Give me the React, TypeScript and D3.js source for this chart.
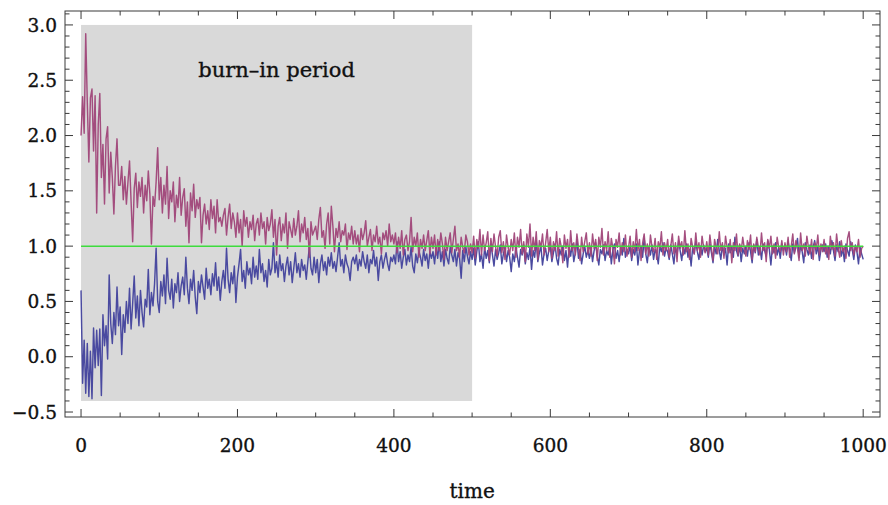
import React from 'react';
import * as d3 from 'd3';

// sampling step of the chains (time units between stored values)
const TIME_STEP = 2;

// upper chain (magenta), t = 0, 2, 4, ... 1000
const chainHigh: number[] = [
  2.00, 2.35, 2.02, 2.92, 2.30, 1.76, 2.34, 2.42, 1.86, 2.36, 1.30, 2.10, 2.38, 1.62, 1.92, 1.38, 1.97, 2.08, 1.48, 1.85, 1.62, 1.29, 1.72, 1.97, 1.55,
  1.55, 1.72, 1.42, 1.63, 1.38, 1.58, 1.77, 1.40, 1.04, 1.52, 1.66, 1.35, 1.58, 1.45, 1.62, 1.30, 1.55, 1.41, 1.68, 1.47, 1.02, 1.45, 1.36, 1.58, 1.89,
  1.42, 1.62, 1.30, 1.55, 1.38, 1.72, 1.25, 1.50, 1.40, 1.58, 1.22, 1.46, 1.35, 1.62, 1.28, 1.44, 1.52, 1.18, 1.40, 1.03, 1.48, 1.32, 1.56, 1.26, 1.42,
  1.34, 1.44, 1.03, 1.28, 1.38, 1.20, 1.32, 1.15, 1.42, 1.25, 1.36, 1.12, 1.42, 1.22, 1.26, 1.18, 1.28, 1.34, 1.10, 1.26, 1.38, 1.16, 1.30, 1.22, 1.08,
  1.30, 1.12, 1.24, 1.00, 1.32, 1.18, 1.26, 1.08, 1.22, 1.15, 1.28, 1.05, 1.20, 1.25, 1.10, 1.30, 1.16, 1.22, 1.02, 1.26, 1.14, 1.20, 1.33, 1.08, 1.24,
  0.92, 1.18, 1.26, 1.05, 1.20, 1.12, 1.30, 0.98, 1.22, 1.15, 1.08, 1.25, 1.10, 1.18, 1.32, 1.04, 1.20, 1.12, 1.26, 1.06, 1.16, 0.90, 1.22, 1.10, 1.14,
  1.18, 1.06, 1.24, 1.35, 1.08, 1.14, 0.98, 1.20, 1.30, 1.02, 1.36, 1.18, 0.95, 1.16, 1.08, 1.22, 1.04, 1.14, 1.10, 1.20, 0.97, 1.12, 1.06, 1.18, 1.02,
  1.14, 1.02, 1.10, 0.95, 1.16, 1.06, 1.12, 1.23, 1.00, 1.08, 1.15, 0.96, 1.10, 1.04, 1.18, 1.02, 1.08, 0.93, 1.12, 1.06, 1.14, 1.00, 1.20, 1.04, 1.10,
  1.02, 1.12, 0.94, 1.08, 0.98, 1.14, 0.92, 1.06, 1.10, 0.96, 1.04, 1.26, 0.95, 1.08, 1.00, 1.12, 0.90, 1.06, 0.98, 1.10, 0.96, 1.05, 1.14, 0.93, 1.08,
  0.98, 1.10, 0.92, 1.06, 0.96, 1.12, 1.02, 0.88, 1.08, 0.96, 1.04, 1.12, 0.94, 1.06, 1.18, 0.96, 1.02, 0.90, 1.08, 0.99, 0.94, 1.10, 1.04, 0.92, 1.02,
  0.94, 1.09, 0.89, 1.06, 0.98, 1.15, 0.92, 1.10, 0.96, 1.03, 1.13, 0.87, 1.07, 0.95, 1.11, 0.99, 0.91, 1.08, 1.14, 0.94, 1.04, 0.88, 1.10, 0.99, 0.92,
  1.06, 0.96, 1.12, 0.90, 1.08, 0.99, 1.15, 0.93, 1.04, 0.86, 1.11, 0.99, 1.20, 0.91, 1.08, 0.96, 1.13, 0.88, 1.05, 0.99, 1.11, 0.92, 1.03, 1.15, 0.95,
  1.08, 0.89, 1.04, 0.96, 1.13, 0.91, 1.07, 0.99, 0.85, 1.10, 0.98, 1.06, 0.90, 1.14, 0.96, 1.03, 0.92, 1.11, 0.99, 0.87, 1.08, 0.95, 1.04, 1.12, 0.93,
  1.03, 0.91, 1.11, 0.98, 1.06, 0.87, 1.08, 0.99, 1.16, 0.92, 1.04, 0.96, 1.13, 0.90, 1.07, 0.98, 0.84, 1.06, 0.99, 1.12, 0.92, 1.03, 0.95, 1.10, 0.91,
  0.99, 1.09, 0.90, 1.04, 0.95, 1.15, 0.96, 1.06, 0.87, 1.03, 1.11, 0.93, 1.02, 0.91, 1.10, 0.99, 0.95, 1.07, 0.88, 1.04, 0.98, 1.13, 0.92, 1.03, 0.96,
  1.06, 0.90, 1.00, 1.11, 0.93, 1.03, 0.86, 1.09, 0.98, 1.04, 0.92, 1.14, 0.95, 1.02, 0.88, 1.07, 0.99, 0.93, 1.12, 0.96, 1.03, 0.90, 1.09, 0.99, 0.94,
  1.04, 0.92, 1.10, 0.98, 0.87, 1.06, 0.99, 0.93, 1.13, 0.96, 1.03, 0.89, 1.09, 0.99, 0.94, 1.06, 0.85, 1.03, 0.96, 1.11, 0.92, 1.02, 0.95, 1.08, 0.98,
  0.91, 1.05, 0.97, 1.10, 0.88, 1.02, 0.95, 1.08, 0.99, 0.92, 1.12, 0.96, 1.03, 0.86, 1.06, 0.98, 1.09, 0.93, 1.02, 0.89, 1.08, 0.99, 0.95, 1.05, 0.92,
  1.03, 0.95, 1.08, 0.90, 1.00, 1.11, 0.93, 1.05, 0.98, 0.87, 1.12, 0.96, 1.02, 0.91, 1.09, 0.99, 0.93, 1.06, 0.88, 1.03, 0.97, 1.10, 0.92, 1.02, 0.95,
  1.06, 0.93, 1.00, 0.88, 1.09, 0.97, 1.03, 0.91, 1.11, 0.98, 0.90, 1.05, 0.95, 1.00, 0.89, 1.07, 1.13, 0.96, 1.03, 0.92, 1.00, 0.95, 1.06, 0.90, 0.98,
  1.00,
];

// lower chain (blue), t = 0, 2, 4, ... 1000
const chainLow: number[] = [
  0.60, -0.24, 0.15, -0.33, 0.12, -0.36, 0.05, -0.38, 0.26, -0.10, 0.24, -0.08, 0.25, -0.35, 0.38, 0.10, 0.28, -0.02, 0.74, 0.30, 0.12, 0.40, 0.20, 0.63, 0.28,
  0.45, 0.02, 0.38, 0.22, 0.50, 0.30, 0.62, 0.25, 0.48, 0.73, 0.35, 0.55, 0.28, 0.60, 0.40, 0.27, 0.52, 0.45, 0.79, 0.38, 0.58, 0.46, 0.66, 0.98, 0.50,
  0.40, 0.68, 0.55, 0.74, 0.48, 0.89, 0.60, 0.52, 0.70, 0.44, 0.66, 0.58, 0.76, 0.50, 0.64, 0.72, 0.56, 0.90, 0.62, 0.48, 0.70, 0.60, 0.78, 0.54, 0.39,
  0.68, 0.58, 0.74, 0.63, 0.52, 0.80, 0.62, 0.70, 0.56, 0.75, 0.64, 0.85, 0.60, 0.72, 0.51, 0.68, 0.78, 0.62, 0.98, 0.70, 0.58, 0.76, 0.66, 0.82, 0.49,
  0.72, 0.84, 0.97, 0.68, 0.78, 0.62, 0.86, 0.74, 0.80, 0.66, 0.90, 0.72, 0.82, 0.70, 0.97, 0.76, 0.84, 0.68, 0.78, 0.63, 0.88, 0.74, 0.80, 1.03, 0.76,
  0.86, 0.72, 0.92, 0.78, 0.84, 0.68, 0.82, 0.90, 0.74, 0.86, 0.67, 0.80, 0.94, 0.76, 0.84, 0.72, 0.88, 0.78, 0.83, 0.70, 0.86, 1.00, 0.80, 0.74, 0.90,
  0.76, 0.88, 0.67, 0.84, 0.92, 0.78, 0.86, 0.74, 0.90, 0.82, 0.94, 0.80, 0.86, 0.77, 0.90, 1.03, 0.82, 0.88, 0.76, 0.92, 0.84, 0.80, 0.69, 0.86, 0.90,
  0.84, 0.92, 0.78, 0.88, 0.82, 0.95, 0.86, 0.80, 0.92, 0.76, 0.88, 0.84, 0.96, 0.82, 0.90, 0.69, 0.86, 0.92, 0.80, 0.88, 0.94, 0.84, 0.78, 0.90, 0.86,
  0.92, 0.84, 1.04, 0.86, 0.95, 0.80, 0.90, 0.97, 0.83, 0.92, 0.86, 0.99, 0.82, 0.76, 0.93, 0.85, 0.96, 0.90, 0.82, 0.97, 0.87, 0.93, 0.80, 0.95, 0.89,
  0.95, 0.84, 0.99, 0.89, 1.04, 0.86, 0.95, 0.82, 0.97, 0.89, 0.84, 0.99, 0.92, 0.86, 0.97, 0.82, 0.94, 0.89, 0.71, 0.96, 0.86, 0.99, 0.91, 0.84, 0.95,
  0.88, 0.98, 0.83, 0.95, 1.04, 0.86, 0.93, 0.80, 0.99, 0.89, 0.96, 0.85, 1.02, 0.92, 0.82, 0.97, 0.88, 0.94, 1.01, 0.84, 0.93, 0.99, 0.86, 0.96, 0.90,
  0.77, 0.93, 0.86, 0.99, 0.90, 0.81, 0.97, 0.92, 1.01, 0.84, 0.94, 0.88, 0.99, 0.79, 0.96, 0.90, 1.05, 0.86, 0.94, 1.00, 0.83, 0.93, 0.98, 0.87, 0.96,
  0.99, 0.86, 0.94, 1.02, 0.89, 0.83, 0.97, 0.92, 1.00, 0.87, 0.96, 0.81, 0.99, 0.91, 1.02, 0.86, 0.94, 1.06, 0.89, 0.97, 0.84, 0.93, 1.00, 0.90, 0.96,
  0.89, 0.99, 0.86, 0.96, 1.03, 0.91, 0.83, 0.97, 0.93, 1.01, 0.87, 0.96, 0.92, 1.00, 0.84, 0.97, 1.02, 0.89, 0.96, 0.86, 0.99, 0.92, 1.07, 0.90, 0.97,
  0.93, 1.00, 0.87, 0.97, 0.92, 1.02, 0.83, 0.96, 1.00, 0.90, 1.07, 0.93, 0.85, 0.99, 0.92, 1.01, 0.88, 0.97, 0.93, 0.84, 1.00, 0.95, 1.03, 0.91, 0.98,
  0.95, 0.88, 1.01, 0.93, 0.84, 0.99, 0.92, 1.05, 0.96, 0.87, 1.00, 0.93, 1.02, 0.90, 0.97, 0.82, 0.99, 0.93, 1.04, 0.95, 0.88, 1.00, 0.92, 1.01, 0.95,
  0.98, 0.90, 1.02, 0.94, 0.85, 1.00, 0.93, 1.06, 0.96, 0.88, 1.01, 0.92, 0.98, 0.83, 1.02, 0.94, 1.00, 0.90, 1.08, 0.96, 0.91, 1.01, 0.86, 0.98, 0.93,
  1.00, 0.91, 1.03, 0.95, 0.85, 1.01, 0.94, 1.06, 0.92, 0.99, 0.88, 1.02, 0.96, 0.91, 1.05, 0.97, 0.83, 1.00, 0.94, 1.03, 0.92, 0.99, 0.89, 1.02, 0.96,
  1.00, 0.92, 1.04, 0.96, 0.87, 1.02, 0.94, 0.99, 1.07, 0.90, 1.00, 0.95, 0.85, 1.03, 0.97, 0.92, 1.01, 0.89, 0.99, 1.05, 0.93, 1.00, 0.87, 0.97, 1.01,
  0.95, 1.02, 0.90, 1.00, 0.93, 1.05, 0.96, 0.87, 1.01, 0.95, 1.04, 0.91, 0.98, 0.86, 1.02, 0.96, 0.91, 1.04, 0.97, 0.88, 1.01, 0.95, 0.84, 0.99, 0.93,
  0.88,
];

const TARGET_VALUE = 1.0;
const BURN_IN_TIME: [number, number] = [0, 500];
const BURN_IN_VALUE: [number, number] = [-0.4, 3.0];
const BURN_IN_LABEL = 'burn\u2013in period';
const X_TITLE = 'time';
const X_TICKS = [0, 200, 400, 600, 800, 1000];
const Y_TICKS = [-0.5, 0.0, 0.5, 1.0, 1.5, 2.0, 2.5, 3.0];

const W = 888;
const H = 505;
const FONT = '"DejaVu Serif", serif';

export default function App() {
  const x = d3.scaleLinear().domain([-20.5, 1021.5]).range([65, 880]);
  const y = d3.scaleLinear().domain([-0.545, 3.126]).range([417, 11]);

  const line = d3
    .line<number>()
    .x((_, i) => x(i * TIME_STEP))
    .y((d) => y(d));

  const xMinor = d3.range(0, 1001, 50);
  const yMinor = d3.range(-5, 32, 1).map((v) => v / 10);
  const [x0, x1] = x.range();
  const [yb, yt] = y.range();
  const majorLen = 8;
  const minorLen = 4.5;
  const frameColor = '#3a3a3a';
  const textStroke = { stroke: '#111', strokeWidth: 0.35 };

  return (
    <svg
      width={W}
      height={H}
      style={{ position: 'absolute', left: 0, top: 0, background: '#fff' }}
      fontFamily={FONT}
    >
      <rect
        x={x(BURN_IN_TIME[0])}
        y={y(BURN_IN_VALUE[1])}
        width={x(BURN_IN_TIME[1]) - x(BURN_IN_TIME[0])}
        height={y(BURN_IN_VALUE[0]) - y(BURN_IN_VALUE[1])}
        fill="#d9d9d9"
      />
      <text
        x={x((BURN_IN_TIME[0] + BURN_IN_TIME[1]) / 2)}
        y={77}
        textAnchor="middle"
        fontSize={21}
        fill="#111"
        {...textStroke}
      >
        {BURN_IN_LABEL}
      </text>

      <path d={line(chainLow) || ''} fill="none" stroke="#4a4aa0" strokeWidth={1.45} strokeLinejoin="round" />
      <path d={line(chainHigh) || ''} fill="none" stroke="#a04679" strokeWidth={1.45} strokeLinejoin="round" strokeOpacity={0.95} />
      <line
        x1={x(0)}
        x2={x(1000)}
        y1={y(TARGET_VALUE)}
        y2={y(TARGET_VALUE)}
        stroke="#3ddc3d"
        strokeWidth={1.5}
      />

      {/* frame */}
      <rect x={x0} y={yt} width={x1 - x0} height={yb - yt} fill="none" stroke={frameColor} strokeWidth={1} />

      {xMinor.map((t) => {
        const len = X_TICKS.includes(t) ? majorLen : minorLen;
        return (
          <g key={'xt' + t} stroke={frameColor} strokeWidth={1}>
            <line x1={x(t)} x2={x(t)} y1={yb} y2={yb - len} />
            <line x1={x(t)} x2={x(t)} y1={yt} y2={yt + len} />
          </g>
        );
      })}
      {yMinor.map((v) => {
        const major = Y_TICKS.some((m) => Math.abs(m - v) < 1e-9);
        const len = major ? majorLen : minorLen;
        return (
          <g key={'yt' + v} stroke={frameColor} strokeWidth={1}>
            <line x1={x0} x2={x0 + len} y1={y(v)} y2={y(v)} />
            <line x1={x1} x2={x1 - len} y1={y(v)} y2={y(v)} />
          </g>
        );
      })}

      {X_TICKS.map((t) => (
        <text key={'xl' + t} x={x(t)} y={452} textAnchor="middle" fontSize={18.5} fill="#111" {...textStroke}>
          {t}
        </text>
      ))}
      {Y_TICKS.map((v) => (
        <text
          key={'yl' + v}
          x={57}
          y={y(v)}
          dy="0.36em"
          textAnchor="end"
          fontSize={18.5}
          fill="#111"
          {...textStroke}
        >
          {v < 0 ? '\u2212' + Math.abs(v).toFixed(1) : v.toFixed(1)}
        </text>
      ))}
      <text x={x(500)} y={498} textAnchor="middle" fontSize={20} fill="#111" {...textStroke}>
        {X_TITLE}
      </text>
    </svg>
  );
}
